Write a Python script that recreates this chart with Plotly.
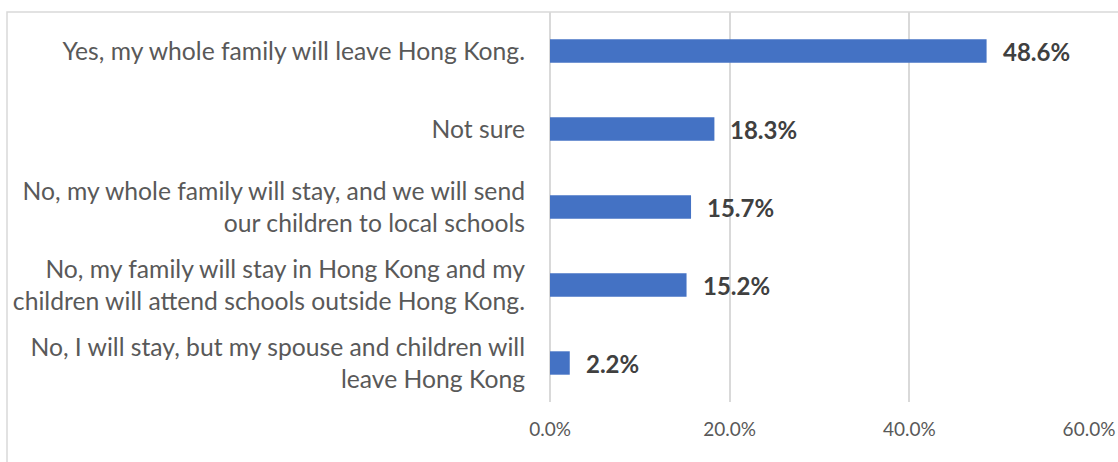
import plotly.graph_objects as go

# Survey responses, listed top to bottom as they appear on the chart
categories = [
    "Yes, my whole family will leave Hong Kong.",
    "Not sure",
    "No, my whole family will stay, and we will send<br>our children to local schools",
    "No, my family will stay in Hong Kong and my<br>children will attend schools outside Hong Kong.",
    "No, I will stay, but my spouse and children will<br>leave Hong Kong",
]
shares = [48.6, 18.3, 15.7, 15.2, 2.2]
tick_values = [0, 20, 40, 60]
tick_labels = ["0.0%", "20.0%", "40.0%", "60.0%"]

FONT = "Lato"
BAR_COLOR = "#4472C4"
GRID_COLOR = "#D9D9D9"

fig = go.Figure()
fig.add_trace(
    go.Bar(
        x=shares,
        y=categories,
        orientation="h",
        marker=dict(color=BAR_COLOR, line=dict(width=0)),
        width=0.3,
        hoverinfo="skip",
    )
)

# Value labels to the right of each bar
for cat, val in zip(categories, shares):
    fig.add_annotation(
        x=val,
        y=cat,
        xref="x",
        yref="y",
        text=f"<b>{val:.1f}%</b>",
        showarrow=False,
        xanchor="left",
        yanchor="middle",
        xshift=14,
        font=dict(family=FONT, size=24, color="#404040"),
    )

# Light frame around the chart
fig.add_shape(
    type="rect",
    xref="paper",
    yref="paper",
    x0=-543 / 539,
    x1=1.2,
    y0=-0.3,
    y1=1.0,
    line=dict(color=GRID_COLOR, width=1.5),
    fillcolor="rgba(0,0,0,0)",
    layer="below",
)

fig.update_layout(
    width=1118,
    height=462,
    margin=dict(l=550, r=29, t=12, b=60, autoexpand=False),
    paper_bgcolor="white",
    plot_bgcolor="white",
    showlegend=False,
    font=dict(family=FONT),
    xaxis=dict(
        range=[0, 60],
        tickvals=tick_values,
        ticktext=tick_labels,
        showgrid=True,
        gridcolor=GRID_COLOR,
        gridwidth=1.5,
        zeroline=True,
        zerolinecolor=GRID_COLOR,
        zerolinewidth=1.5,
        showline=False,
        ticks="",
        ticklabelstandoff=14,
        automargin=False,
        tickfont=dict(family=FONT, size=19, color="#595959"),
        fixedrange=True,
    ),
    yaxis=dict(
        autorange="reversed",
        showgrid=False,
        zeroline=False,
        showline=False,
        ticks="",
        ticklabelstandoff=24,
        automargin=False,
        tickfont=dict(family=FONT, size=24.7, color="#595959"),
        fixedrange=True,
    ),
)

fig.write_html("out.html")
